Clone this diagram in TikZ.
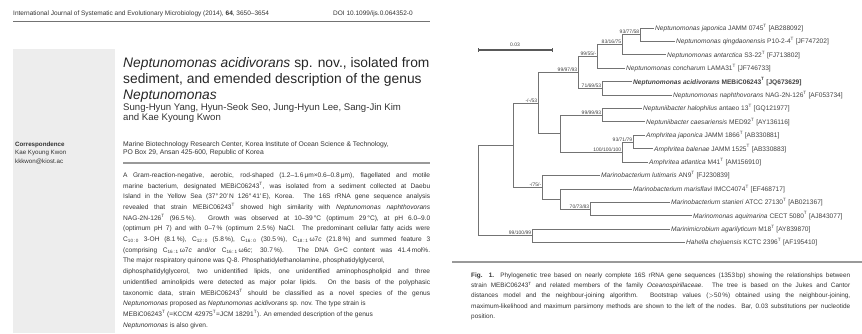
\documentclass[tikz,border=0pt]{standalone}
\usepackage{fontspec}
\setmainfont{Liberation Sans}
\usetikzlibrary{positioning}

\begin{document}
\begin{tikzpicture}[x=1pt, y=-1pt,
	leaf/.style = {anchor=west, inner sep=1pt, font=\fontsize{6.6}{7}\selectfont, text=black!75},
	boot/.style = {anchor=south east, inner sep=0.6pt, font=\fontsize{5}{5.5}\selectfont, text=black!75},
	branch/.style = {draw=black!55, line width=0.6pt},
	page/.style = {anchor=north west, inner sep=0pt, text=black!80}]
	\useasboundingbox (0,0) rectangle (862,334);
	% left page
	\fill[black!7] (13,49) rectangle (115,333);
	\node[page, anchor=west, font=\fontsize{6.5}{7}\selectfont] (head) at (13,14) {International Journal of Systematic and Evolutionary Microbiology (2014), \textbf{64}, 3650--3654};
	\node[page, anchor=west, font=\fontsize{6.5}{7}\selectfont] (doi) at (333,14) {DOI 10.1099/ijs.0.064352-0};
	\draw[black!55, line width=0.6pt] (13,21.5) -- (430,21.5);
	\node[page, font=\fontsize{13.8}{16}\selectfont, text=black!85, align=left] (title) at (123,57.5) {\textit{Neptunomonas acidivorans} sp. nov., isolated from\\ sediment, and emended description of the genus\\ \textit{Neptunomonas}};
	\node[page, font=\fontsize{9.6}{10}\selectfont, align=left] (authors) at (123,103) {Sung-Hyun Yang, Hyun-Seok Seo, Jung-Hyun Lee, Sang-Jin Kim\\ and Kae Kyoung Kwon};
	\node[page, font=\fontsize{6.8}{8}\selectfont, align=left] (affil) at (123,141.5) {Marine Biotechnology Research Center, Korea Institute of Ocean Science \& Technology,\\ PO Box 29, Ansan 425-600, Republic of Korea};
	\node[page, font=\fontsize{6.2}{8.6}\selectfont, align=left] (corr) at (15,141.6) {\textbf{Correspondence}\\ Kae Kyoung Kwon\\ kkkwon@kiost.ac};
	\draw[black!40, line width=1.5pt] (123,163) -- (430,163);
	\node[page, font=\fontsize{6.6}{10.7}\selectfont, text width=307pt, align=justify] (abstract) at (123,172.4) {A Gram-reaction-negative, aerobic, rod-shaped (1.2--1.6\,μm×0.6--0.8\,μm), flagellated and motile\linebreak
	marine bacterium, designated MEBiC06243\textsuperscript{T}, was isolated from a sediment collected at Daebu\linebreak
	Island in the Yellow Sea (37°\,20′\,N 126°\,41′\,E), Korea. The 16S rRNA gene sequence analysis\linebreak
	revealed that strain MEBiC06243\textsuperscript{T} showed high similarity with \textit{Neptunomonas naphthovorans}\linebreak
	NAG-2N-126\textsuperscript{T} (96.5\,\%). Growth was observed at 10--39\,°C (optimum 29\,°C), at pH 6.0--9.0\linebreak
	(optimum pH 7) and with 0--7\,\% (optimum 2.5\,\%) NaCl. The predominant cellular fatty acids were\linebreak
	C\textsubscript{10\,:\,0} 3-OH (8.1\,\%), C\textsubscript{12\,:\,0} (5.8\,\%), C\textsubscript{16\,:\,0} (30.5\,\%), C\textsubscript{18\,:\,1}\,ω7\textit{c} (21.8\,\%) and summed feature 3\linebreak
	(comprising C\textsubscript{16\,:\,1}\,ω7\textit{c} and/or C\textsubscript{16\,:\,1}\,ω6\textit{c}; 30.7\,\%). The DNA G+C content was 41.4\,mol\%.\linebreak
	The major respiratory quinone was Q-8. Phosphatidylethanolamine, phosphatidylglycerol,\\
	diphosphatidylglycerol, two unidentified lipids, one unidentified aminophospholipid and three\linebreak
	unidentified aminolipids were detected as major polar lipids. On the basis of the polyphasic\linebreak
	taxonomic data, strain MEBiC06243\textsuperscript{T} should be classified as a novel species of the genus\linebreak
	\textit{Neptunomonas} proposed as \textit{Neptunomonas acidivorans} sp. nov. The type strain is\\
	MEBiC06243\textsuperscript{T} (=KCCM 42975\textsuperscript{T}=JCM 18291\textsuperscript{T}). An emended description of the genus\\
	\textit{Neptunomonas} is also given.};
	% scale bar
	\coordinate (bar1) at (478,50);
	\coordinate (bar2) at (552,50);
	\draw[black!65, line width=1.2pt] (bar1) -- (bar2);
	\draw[black!65, line width=0.6pt] ([yshift=-2pt]bar1) -- ([yshift=2pt]bar1) ([yshift=-2pt]bar2) -- ([yshift=2pt]bar2);
	\node[boot, anchor=south] (barlabel) at (515,47) {0.03};
	% leaves
	\node[leaf] (1) at (654,28) {\textit{Neptunomonas japonica} JAMM 0745\textsuperscript{T} [AB288092]};
	\node[leaf] (2) at (675,41.4) {\textit{Neptunomonas qingdaonensis} P10-2-4\textsuperscript{T} [JF747202]};
	\node[leaf] (3) at (666,54.8) {\textit{Neptunomonas antarctica} S3-22\textsuperscript{T} [FJ713802]};
	\node[leaf] (4) at (625,68.2) {\textit{Neptunomonas concharum} LAMA31\textsuperscript{T} [JF746733]};
	\node[leaf, font=\fontsize{6.6}{7}\selectfont\bfseries] (5) at (632,81.6) {\textit{Neptunomonas acidivorans} MEBiC06243\textsuperscript{T} [JQ673629]};
	\node[leaf] (6) at (672,95) {\textit{Neptunomonas naphthovorans} NAG-2N-126\textsuperscript{T} [AF053734]};
	\node[leaf] (7) at (642,108.4) {\textit{Neptuniibacter halophilus} antaeo 13\textsuperscript{T} [GQ121977]};
	\node[leaf] (8) at (645,121.8) {\textit{Neptuniibacter caesariensis} MED92\textsuperscript{T} [AY136116]};
	\node[leaf] (9) at (645,135.2) {\textit{Amphritea japonica} JAMM 1866\textsuperscript{T} [AB330881]};
	\node[leaf] (10) at (653,148.6) {\textit{Amphritea balenae} JAMM 1525\textsuperscript{T} [AB330883]};
	\node[leaf] (11) at (648,162) {\textit{Amphritea atlantica} M41\textsuperscript{T} [AM156910]};
	\node[leaf] (12) at (600,175.4) {\textit{Marinobacterium lutimaris} AN9\textsuperscript{T} [FJ230839]};
	\node[leaf] (13) at (632,188.8) {\textit{Marinobacterium marisflavi} IMCC4074\textsuperscript{T} [EF468717]};
	\node[leaf] (14) at (670,202.2) {\textit{Marinobacterium stanieri} ATCC 27130\textsuperscript{T} [AB021367]};
	\node[leaf] (15) at (692,215.6) {\textit{Marinomonas aquimarina} CECT 5080\textsuperscript{T} [AJ843077]};
	\node[leaf] (16) at (670,229) {\textit{Marinimicrobium agarilyticum} M18\textsuperscript{T} [AY839870]};
	\node[leaf] (17) at (685,242.4) {\textit{Hahella chejuensis} KCTC 2396\textsuperscript{T} [AF195410]};
	% inner nodes
	\coordinate (a) at (640,34.7);
	\coordinate (b) at (622,44.75);
	\coordinate (c) at (597,56.5);
	\coordinate (d) at (602,88.3);
	\coordinate (e) at (578,72.4);
	\coordinate (f) at (602,115.1);
	\coordinate (g) at (633,141.9);
	\coordinate (h) at (622,152);
	\coordinate (i) at (560,133.5);
	\coordinate (j) at (538,103);
	\coordinate (k) at (590,208.9);
	\coordinate (l) at (560,198.9);
	\coordinate (m) at (542,187.1);
	\coordinate (n) at (513,145);
	\coordinate (o) at (532,235.7);
	\coordinate (r) at (478,190.4);
	\node[boot] (ba) at (a) {93/77/58};
	\node[boot] (bb) at (b) {83/16/75};
	\node[boot] (bc) at (c) {99/55/-};
	\node[boot] (bd) at (d) {71/69/53};
	\node[boot] (be) at (e) {99/97/93};
	\node[boot] (bf) at (f) {99/99/93};
	\node[boot] (bg) at (g) {93/71/79};
	\node[boot] (bh) at (h) {100/100/100};
	\node[boot] (bj) at (j) {-/-/53};
	\node[boot] (bk) at (k) {70/73/83};
	\node[boot] (bm) at (m) {-/75/-};
	\node[boot] (bo) at (o) {99/100/99};
	\draw[branch] (a) |- (1.west);
	\draw[branch] (a) |- (2.west);
	\draw[branch] (b) |- (a);
	\draw[branch] (b) |- (3.west);
	\draw[branch] (c) |- (b);
	\draw[branch] (c) |- (4.west);
	\draw[branch] (d) |- (5.west);
	\draw[branch] (d) |- (6.west);
	\draw[branch] (e) |- (c);
	\draw[branch] (e) |- (d);
	\draw[branch] (f) |- (7.west);
	\draw[branch] (f) |- (8.west);
	\draw[branch] (g) |- (9.west);
	\draw[branch] (g) |- (10.west);
	\draw[branch] (h) |- (g);
	\draw[branch] (h) |- (11.west);
	\draw[branch] (i) |- (f);
	\draw[branch] (i) |- (h);
	\draw[branch] (j) |- (e);
	\draw[branch] (j) |- (i);
	\draw[branch] (k) |- (14.west);
	\draw[branch] (k) |- (15.west);
	\draw[branch] (l) |- (13.west);
	\draw[branch] (l) |- (k);
	\draw[branch] (m) |- (12.west);
	\draw[branch] (m) |- (l);
	\draw[branch] (n) |- (j);
	\draw[branch] (n) |- (m);
	\draw[branch] (o) |- (16.west);
	\draw[branch] (o) |- (17.west);
	\draw[branch] (r) |- (n);
	\draw[branch] (r) |- (o);
	% caption
	\draw[black!40, line width=1.5pt] (452,262) -- (862,262);
	\node[page, font=\fontsize{6.4}{10.3}\selectfont, text width=379pt, align=justify] (caption) at (471,272.4) {\textbf{Fig. 1.} Phylogenetic tree based on nearly complete 16S rRNA gene sequences (1353\,bp) showing the relationships between\linebreak
	strain MEBiC06243\textsuperscript{T} and related members of the family \textit{Oceanospirillaceae}. The tree is based on the Jukes and Cantor\linebreak
	distances model and the neighbour-joining algorithm. Bootstrap values (${>}$50\,\%) obtained using the neighbour-joining,\linebreak
	maximum-likelihood and maximum parsimony methods are shown to the left of the nodes. Bar, 0.03 substitutions per nucleotide\linebreak
	position.};
\end{tikzpicture}
\end{document}
